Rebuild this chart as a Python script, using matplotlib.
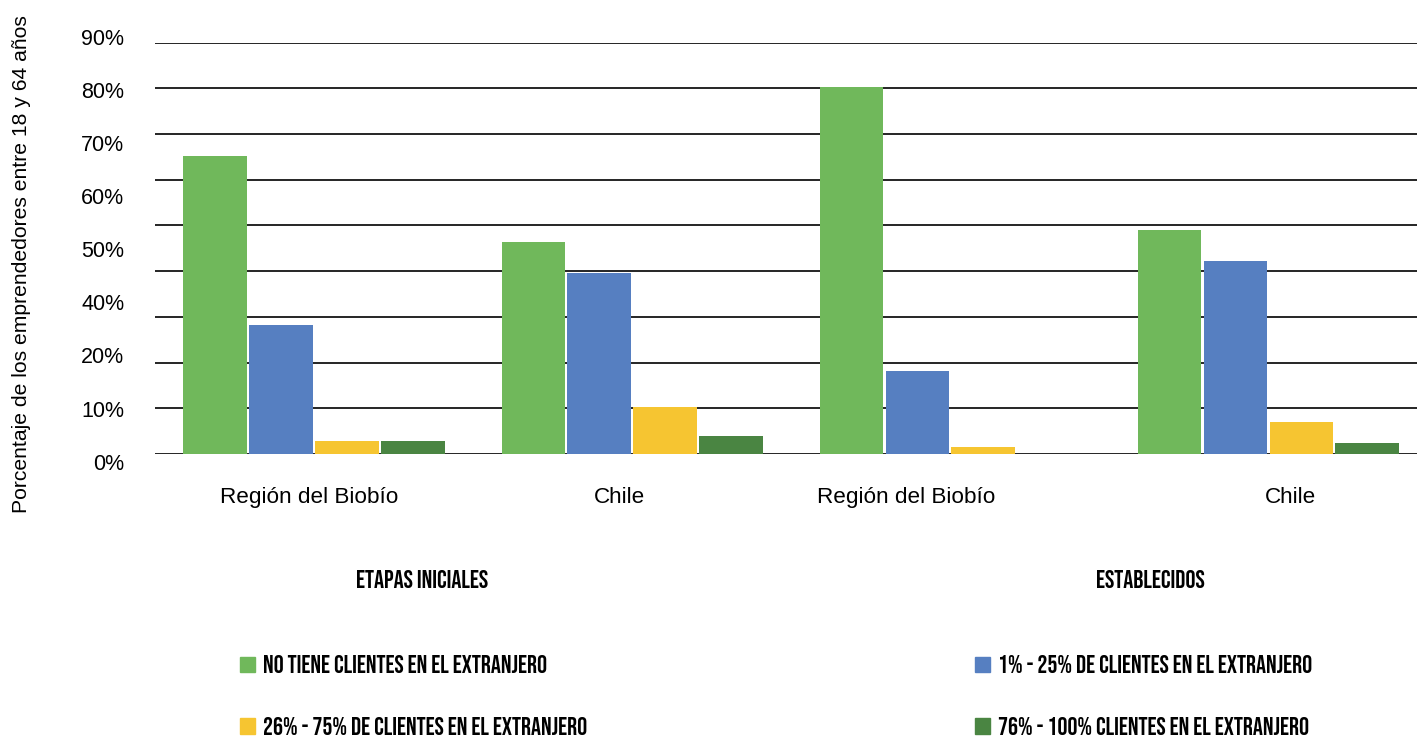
import numpy as np
import matplotlib.pyplot as plt
from matplotlib.patches import Patch

# values (percent, on the gridline scale)
grupos = ["Región del Biobío", "Chile", "Región del Biobío", "Chile"]
sin_clientes = [65.2, 46.4, 80.2, 49.0]
clientes_1_25 = [28.2, 39.6, 18.2, 42.2]
clientes_26_75 = [2.8, 10.3, 1.5, 7.0]
clientes_76_100 = [2.8, 3.9, 0.0, 2.4]

series = [sin_clientes, clientes_1_25, clientes_26_75, clientes_76_100]
nombres = ["NO TIENE CLIENTES EN EL EXTRANJERO",
           "1% - 25% DE CLIENTES EN EL EXTRANJERO",
           "26% - 75% DE CLIENTES EN EL EXTRANJERO",
           "76% - 100% CLIENTES EN EL EXTRANJERO"]
colores = ["#70B85B", "#567FC1", "#F6C531", "#4A8542"]

y_labels = ["0%", "10%", "20%", "40%", "50%", "60%", "70%", "80%", "90%"]
label_pos = [-0.014, 0.96, 1.86, 3.07]   # tick labels sit a bit off the groups
etapas = ["ETAPAS INICIALES", "ESTABLECIDOS"]

W, H = 1417, 738
fig = plt.figure(figsize=(W / 100, H / 100), dpi=100)
sans = ["Liberation Sans", "DejaVu Sans"]
bebas = ["Bebas Neue", "DejaVu Sans"]

def px_axes(left, top, right, bottom):
    return [left / W, 1 - bottom / H, (right - left) / W, (bottom - top) / H]

ax = fig.add_axes(px_axes(155, 42.7, 1417, 454))

x = np.arange(len(grupos))
width = 0.2
step = 0.207
for i, (vals, col) in enumerate(zip(series, colores)):
    ax.bar(x + (i - 1.5) * step, vals, width, color=col, zorder=3)

ax.set_xlim(-0.5, 3.467)
ax.set_ylim(0, 90)
ax.set_yticks(range(0, 91, 10))
ax.yaxis.grid(True, color="black", lw=1.2)
ax.tick_params(axis="y", length=0, labelleft=False)
ax.set_xticks(label_pos, grupos, fontsize=16.2, family=sans)
ax.tick_params(axis="x", length=0, pad=24)
for s in ax.spines.values():
    s.set_visible(False)

# y labels are evenly spaced, independent of the gridlines
ax_lab = fig.add_axes(px_axes(60, 36.7, 130, 461.7), frameon=False)
ax_lab.set_ylim(0, len(y_labels) - 1)
ax_lab.set_yticks(range(len(y_labels)), y_labels, fontsize=15.5, family=sans)
ax_lab.yaxis.tick_right()
ax_lab.set_xticks([])
for t in ax_lab.get_yticklabels():
    t.set_horizontalalignment("right")
ax_lab.tick_params(axis="y", length=0, pad=-4)

fig.text(22 / W, 1 - 264 / H, "Porcentaje de los emprendedores entre 18 y 64 años",
         rotation=90, ha="center", va="center", fontsize=15.2, family=sans)

fig.text(422 / W, 1 - 579 / H, etapas[0], ha="center", va="center", fontsize=18, family=bebas)
fig.text(1150 / W, 1 - 579 / H, etapas[1], ha="center", va="center", fontsize=18, family=bebas)

handles = [Patch(color=c) for c in colores]
leg_kw = dict(frameon=False, handlelength=0.6, handleheight=0.6, handletextpad=0.33,
              labelspacing=1.75, borderpad=0, borderaxespad=0,
              prop=dict(size=17.9, family=bebas))
fig.legend([handles[0], handles[2]], [nombres[0], nombres[2]], loc="center left",
           bbox_to_anchor=(240 / W, 1 - 695 / H), **leg_kw)
fig.legend([handles[1], handles[3]], [nombres[1], nombres[3]], loc="center left",
           bbox_to_anchor=(975 / W, 1 - 695 / H), **leg_kw)

fig.savefig("out.png", dpi=100)
